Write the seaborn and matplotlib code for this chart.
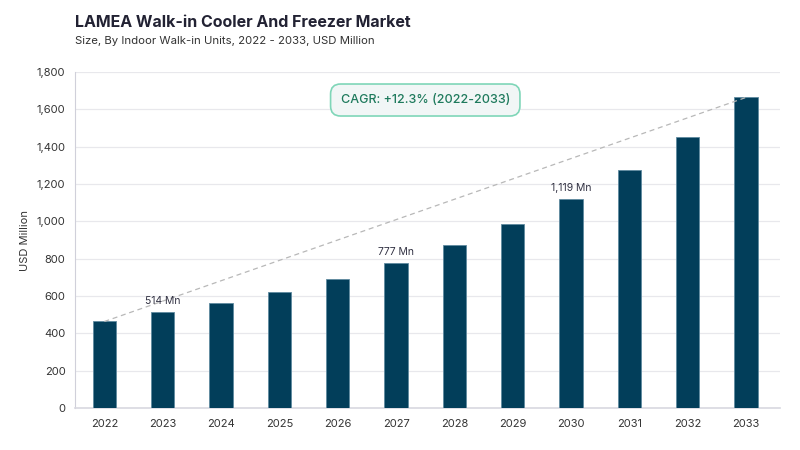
import matplotlib
matplotlib.use("Agg")
import matplotlib.pyplot as plt
import seaborn as sns
import pandas as pd
from matplotlib.ticker import FuncFormatter

# data
years = ["2022", "2023", "2024", "2025", "2026", "2027",
         "2028", "2029", "2030", "2031", "2032", "2033"]
values = [464, 514, 563, 621, 693, 777, 871, 985, 1119, 1273, 1454, 1664]
labelled = ["2023", "2027", "2030"]
cagr_text = "CAGR: +12.3% (2022-2033)"

df = pd.DataFrame({"Year": years, "Value": values})

sns.set_style("white")
plt.rcParams["font.family"] = ["Inter", "DejaVu Sans"]

fig = plt.figure(figsize=(8, 4.5), dpi=100)
ax = fig.add_axes([0.094, 0.093, 0.881, 0.747])

sns.barplot(data=df, x="Year", y="Value", color="#023E5A", width=0.4,
            saturation=1, edgecolor="#5f8aa0", linewidth=0.6, ax=ax, zorder=3)

ax.set_ylim(0, 1800)
ax.set_xlim(-0.5, 11.58)
ax.set_yticks(range(0, 1801, 200))
ax.yaxis.set_major_formatter(FuncFormatter(lambda v, p: f"{int(v):,}"))
ax.grid(axis="y", color="#e8e8ec", linewidth=0.9, zorder=0)
ax.set_xlabel("")
ax.set_ylabel("USD Million", fontsize=8, color="#333333", labelpad=5)
ax.tick_params(axis="y", length=4, color="#d0d0da", labelsize=8, labelcolor="#333333", pad=3)
ax.tick_params(axis="x", length=0, labelsize=8, labelcolor="#333333", pad=8)

for s in ["top", "right"]:
    ax.spines[s].set_visible(False)
ax.spines["left"].set_color("#d0d0da")
ax.spines["bottom"].set_color("#d8d8e0")
ax.spines["bottom"].set_linewidth(1.2)

# value labels
for i, (y, v) in enumerate(zip(years, values)):
    if y in labelled:
        ax.text(i, v + 35, f"{v:,} Mn", ha="center", va="bottom",
                fontsize=7.5, color="#333344", zorder=5)

# CAGR trend line
ax.plot([0, len(years) - 1], [values[0], values[-1]], linestyle=(0, (4, 3)),
        color="#b8b8b8", linewidth=0.9, zorder=4)

ax.text(5.5, 1650, cagr_text, ha="center", va="center", fontsize=9,
        color="#1e7a5c", fontweight="medium", zorder=6,
        bbox=dict(boxstyle="round,pad=0.8,rounding_size=0.8",
                  facecolor="#f1f6f6", edgecolor="#7fd6b8", linewidth=1.2))

fig.text(0.094, 0.95, "LAMEA Walk-in Cooler And Freezer Market",
         fontsize=11.5, fontweight="bold", color="#222233", ha="left", va="center")
fig.text(0.094, 0.908, "Size, By Indoor Walk-in Units, 2022 - 2033, USD Million",
         fontsize=8.2, color="#333333", ha="left", va="center")

fig.savefig("out.png", dpi=100)
